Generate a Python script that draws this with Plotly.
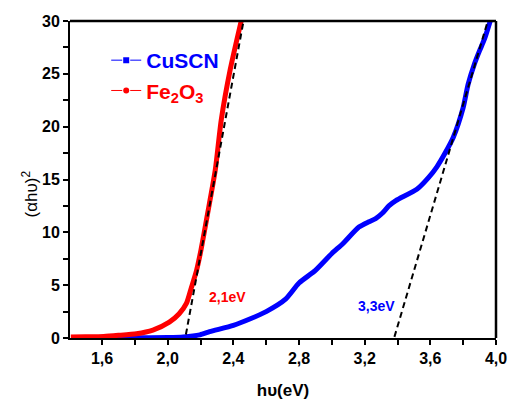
import plotly.graph_objects as go

# ---- data ----
fe_x = [1.41, 1.5, 1.61, 1.7, 1.81, 1.91, 2.01, 2.07, 2.115, 2.145, 2.176, 2.2025,
        2.24, 2.29, 2.326, 2.381, 2.448]
fe_y = [0.1, 0.12, 0.15, 0.25, 0.4, 0.75, 1.5, 2.3, 3.3, 4.8, 6.4, 8.3,
        11.5, 15.9, 20.6, 25.4, 30.0]

cu_x = [1.5, 1.8, 2.0, 2.095, 2.196, 2.256, 2.40, 2.50, 2.60, 2.72, 2.80, 2.90,
        3.00, 3.065, 3.165, 3.226, 3.267, 3.307, 3.347, 3.39, 3.52, 3.59, 3.64,
        3.69, 3.74, 3.80, 3.83, 3.87, 3.90, 3.93, 3.965]
cu_y = [0.0, 0.02, 0.05, 0.1, 0.3, 0.6, 1.2, 1.8, 2.5, 3.7, 5.2, 6.4,
        8.0, 8.9, 10.5, 11.0, 11.3, 11.8, 12.5, 13.0, 14.1, 15.2, 16.2,
        17.5, 19.0, 21.8, 24.0, 26.0, 27.2, 28.3, 30.0]

tan_fe_x = [2.10, 2.462]
tan_fe_y = [-0.6, 30.0]
tan_cu_x = [3.364, 3.95]
tan_cu_y = [-0.8, 30.0]

x_tickvals = [1.6, 1.8, 2.0, 2.2, 2.4, 2.6, 2.8, 3.0, 3.2, 3.4, 3.6, 3.8, 4.0]
x_ticktext = ["1,6", "", "2,0", "", "2,4", "", "2,8", "", "3,2", "", "3,6", "", "4,0"]
y_tickvals = [0, 2.5, 5, 7.5, 10, 12.5, 15, 17.5, 20, 22.5, 25, 27.5, 30]
y_ticktext = ["0", "", "5", "", "10", "", "15", "", "20", "", "25", "", "30"]

BLUE = "#0000ff"
RED = "#ff0000"
FONT = "Arial, Liberation Sans, sans-serif"


def bold(t):
    return "<b>%s</b>" % t if t else " "


fig = go.Figure()
fig.add_trace(go.Scatter(x=cu_x, y=cu_y, mode="lines",
                         line=dict(color=BLUE, width=5, shape="spline", smoothing=0.6),
                         showlegend=False))
fig.add_trace(go.Scatter(x=fe_x, y=fe_y, mode="lines",
                         line=dict(color=RED, width=5, shape="spline", smoothing=0.6),
                         showlegend=False))
fig.add_trace(go.Scatter(x=tan_fe_x, y=tan_fe_y, mode="lines",
                         line=dict(color="black", width=2, dash="6px,4px"), showlegend=False))
fig.add_trace(go.Scatter(x=tan_cu_x, y=tan_cu_y, mode="lines",
                         line=dict(color="black", width=2, dash="6px,4px"), showlegend=False))
# legend entries
fig.add_trace(go.Scatter(x=[None], y=[None], mode="lines+markers",
                         name="<span style='color:#0000ff'><b>CuSCN</b></span>",
                         line=dict(color=BLUE, width=1, dash="11px,8px"),
                         marker=dict(symbol="square", size=6, color=BLUE)))
fig.add_trace(go.Scatter(x=[None], y=[None], mode="lines+markers",
                         name="<span style='color:#ff0000'><b>Fe<sub>2</sub>O<sub>3</sub></b></span>",
                         line=dict(color=RED, width=1, dash="11px,8px"),
                         marker=dict(symbol="circle", size=6, color=RED)))

fig.update_layout(
    width=511, height=401, autosize=False,
    margin=dict(l=70, r=15, t=21, b=63, autoexpand=False),
    paper_bgcolor="white", plot_bgcolor="white",
    font=dict(family=FONT, color="black"),
    legend=dict(x=0.085, y=0.94, xanchor="left", yanchor="top",
                bgcolor="rgba(0,0,0,0)", font=dict(size=21, family=FONT),
                tracegroupgap=0),
    xaxis=dict(range=[1.405, 4.0], showgrid=False, zeroline=False, automargin=False,
               showline=True, linecolor="black", linewidth=2,
               ticks="outside", ticklen=5, tickwidth=2, tickcolor="black",
               tickvals=x_tickvals, ticktext=[bold(t) for t in x_ticktext],
               tickfont=dict(size=16, family=FONT),
               title=dict(text="<b>hυ(eV)</b>", font=dict(size=17, family=FONT), standoff=18)),
    yaxis=dict(range=[0, 30], showgrid=False, zeroline=False, automargin=False,
               showline=True, linecolor="black", linewidth=2,
               ticks="outside", ticklen=5, tickwidth=2, tickcolor="black",
               tickvals=y_tickvals, ticktext=[bold(t) for t in y_ticktext],
               tickfont=dict(size=16, family=FONT)),
    shapes=[dict(type="line", xref="paper", yref="paper", x0=0, x1=1, y0=1, y1=1,
                 line=dict(color="black", width=2.5), layer="above"),
            dict(type="line", xref="paper", yref="paper", x0=1, x1=1, y0=0, y1=1,
                 line=dict(color="black", width=2.5), layer="above")],
    annotations=[
        dict(x=2.363, y=3.9, xref="x", yref="y", text="<b>2,1eV</b>", showarrow=False,
             font=dict(size=14, color=RED, family=FONT)),
        dict(x=3.275, y=3.0, xref="x", yref="y", text="<b>3,3eV</b>", showarrow=False,
             font=dict(size=14, color=BLUE, family=FONT)),
        dict(x=-0.125, y=0.455, xref="paper", yref="paper", text="(αhυ)<sup>2</sup>",
             textangle=-90, showarrow=False, font=dict(size=17, family=FONT)),
    ],
)

fig.write_html("out.html")
